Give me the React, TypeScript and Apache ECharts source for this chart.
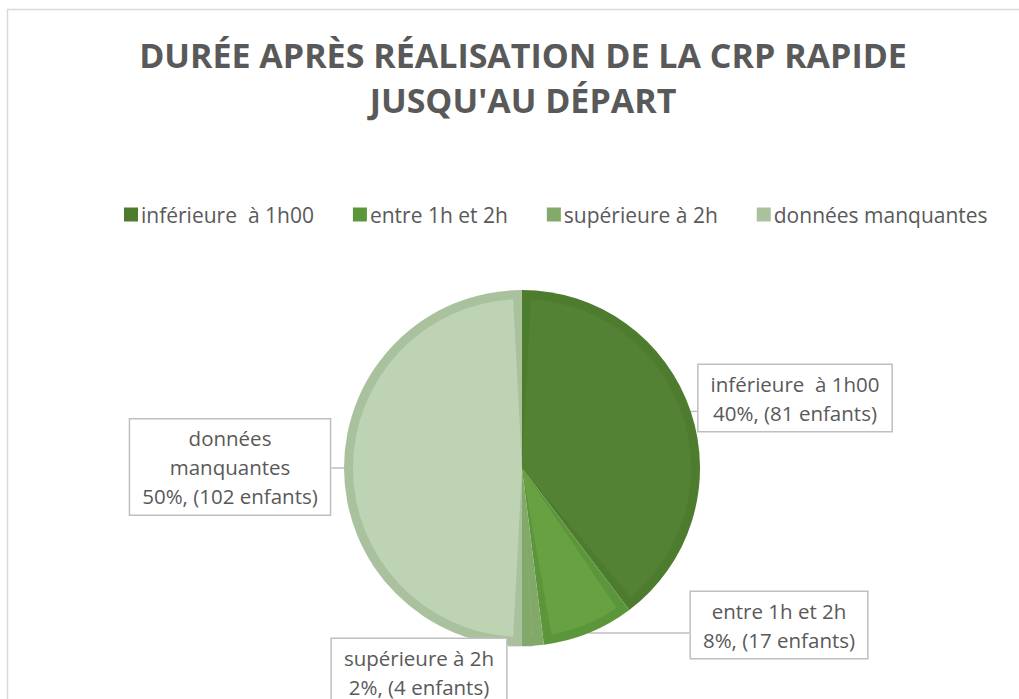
import React, { useEffect, useRef } from "react";
import * as echarts from "echarts";

const titleText = "DURÉE APRÈS RÉALISATION DE LA CRP RAPIDE\nJUSQU'AU DÉPART";
const categories = ["inférieure  à 1h00", "entre 1h et 2h", "supérieure à 2h", "données manquantes"];
const labelNames = ["inférieure  à 1h00", "entre 1h et 2h", "supérieure à 2h", "données\nmanquantes"];
const childCounts = [81, 17, 4, 102];
const borderColors = ["#4E7C2F", "#5C963A", "#82A86A", "#A9C29D"];
const fillColors = ["#548235", "#68A142", "#86AB6E", "#BDD3B3"];

const FONT = "'Open Sans', Lato, sans-serif";
const TEXT = "#595959";
const labelCenters: [number, number][] = [
  [795, 398],
  [779, 625],
  [419, 672],
  [230, 467],
];

export default function App() {
  const ref = useRef<HTMLDivElement>(null);
  useEffect(() => {
    if (!ref.current) return;
    const chart = echarts.init(ref.current, null, { renderer: "svg" });
    const base = categories.map((name, i) => ({ name, value: childCounts[i] }));
    chart.setOption({
      animation: false,
      backgroundColor: "#ffffff",
      graphic: [
        {
          type: "rect",
          z: -10,
          silent: true,
          shape: { x: 7.5, y: 9.5, width: 1200, height: 1000 },
          style: { fill: "none", stroke: "#d9d9d9", lineWidth: 1.5 },
        },
      ],
      title: {
        text: titleText,
        left: 518,
        textAlign: "center",
        top: 27,
        textStyle: {
          fontFamily: FONT,
          fontWeight: "bold",
          fontSize: 34,
          lineHeight: 45,
          color: TEXT,
        },
      },
      legend: {
        top: 199,
        left: 119,
        icon: "rect",
        itemWidth: 14,
        itemHeight: 14,
        itemGap: 39,
        data: categories,
        textStyle: { fontFamily: FONT, fontSize: 21, color: TEXT, padding: [0, 0, 0, -2] },
      },
      series: [
        {
          type: "pie",
          center: [522, 468],
          radius: [0, 178],
          startAngle: 90,
          clockwise: true,
          percentPrecision: 0,
          data: base.map((d, i) => ({ ...d, itemStyle: { color: borderColors[i] } })),
          itemStyle: { borderWidth: 0 },
          emphasis: { disabled: true },
          label: {
            show: true,
            position: "outside",
            formatter: (p: any) => `${labelNames[p.dataIndex]}\n${p.percent}%, (${p.value} enfants)`,
            backgroundColor: "#ffffff",
            borderColor: "#bfbfbf",
            borderWidth: 1.5,
            padding: [4, 12, 4, 12],
            color: TEXT,
            fontFamily: FONT,
            fontSize: 20.5,
            lineHeight: 29,
            align: "center",
          },
          labelLine: {
            show: true,
            length: 10,
            length2: 10,
            lineStyle: { color: "#bfbfbf", width: 1.5 },
          },
          labelLayout: (params: any) => {
            const c = labelCenters[params.dataIndex];
            const w = params.labelRect.width;
            const h = params.labelRect.height;
            const p0 = params.labelLinePoints ? params.labelLinePoints[0] : [c[0], c[1]];
            const l = c[0] - w / 2, r = c[0] + w / 2, t = c[1] - h / 2, b = c[1] + h / 2;
            const nx = Math.min(Math.max(p0[0], l), r);
            const ny = Math.min(Math.max(p0[1], t), b);
            return {
              x: c[0],
              y: c[1],
              align: "center",
              verticalAlign: "middle",
              labelLinePoints: [
                [p0[0], p0[1]],
                [(p0[0] + nx) / 2, (p0[1] + ny) / 2],
                [nx, ny],
              ],
            };
          },
        },
        {
          type: "pie",
          center: [522, 468],
          radius: [0, 169],
          startAngle: 90,
          clockwise: true,
          padAngle: 6,
          silent: true,
          data: base.map((d, i) => ({ ...d, itemStyle: { color: fillColors[i] } })),
          itemStyle: { borderWidth: 0 },
          emphasis: { disabled: true },
          label: { show: false },
          labelLine: { show: false },
        },
      ],
    });
    return () => chart.dispose();
  }, []);
  return (
    <div
      ref={ref}
      style={{ position: "absolute", left: 0, top: 0, width: 1019, height: 699, background: "#fff" }}
    />
  );
}
